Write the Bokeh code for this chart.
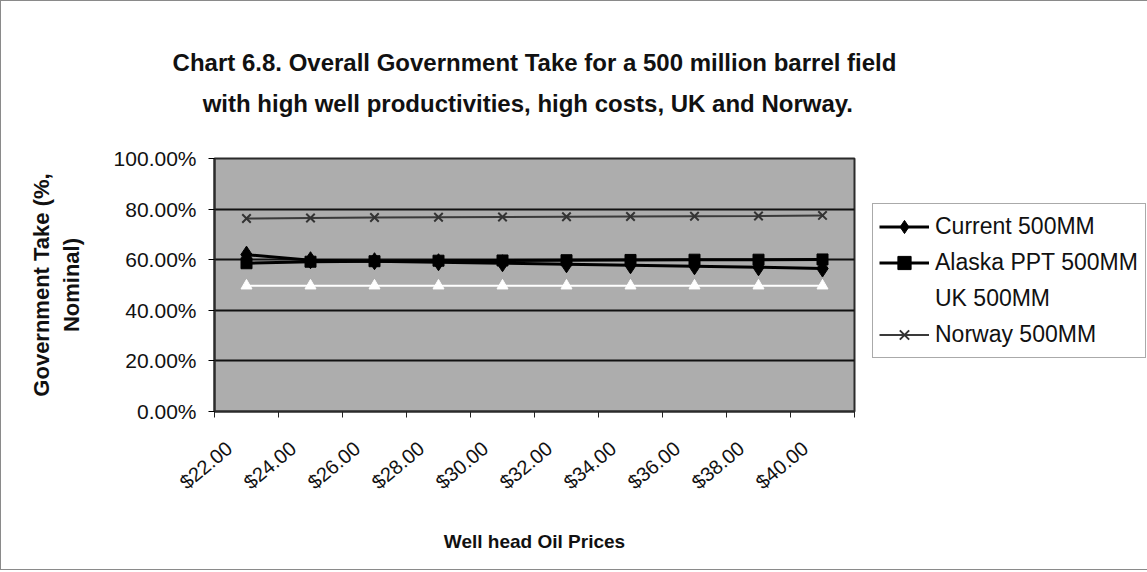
import math
from bokeh.plotting import figure
from bokeh.models import (FixedTicker, NumeralTickFormatter, Legend, LegendItem,
                          Title, Range1d)
from bokeh.embed import file_html
from bokeh.resources import INLINE

# ---- data ----
prices = ["$22.00", "$24.00", "$26.00", "$28.00", "$30.00",
          "$32.00", "$34.00", "$36.00", "$38.00", "$40.00"]
current = [0.620, 0.598, 0.594, 0.590, 0.586, 0.582, 0.578, 0.574, 0.570, 0.565]
alaska = [0.586, 0.592, 0.594, 0.596, 0.597, 0.598, 0.599, 0.600, 0.600, 0.601]
uk = [0.497, 0.497, 0.497, 0.497, 0.497, 0.497, 0.497, 0.497, 0.497, 0.497]
norway = [0.763, 0.765, 0.767, 0.768, 0.769, 0.770, 0.771, 0.772, 0.773, 0.775]
y_ticks = [0.0, 0.2, 0.4, 0.6, 0.8, 1.0]
title_lines = ["Chart 6.8. Overall Government Take for a 500 million barrel field",
               "with high well productivities,  high costs,  UK and Norway."]

x = list(range(1, len(prices) + 1))
FONT = "Liberation Sans"
INK = "#111111"

p = figure(frame_width=640, frame_height=253, output_backend="svg", toolbar_location=None,
           x_range=Range1d(0.5, len(prices) + 0.5), y_range=Range1d(0, 1),
           min_border_left=213, min_border_right=0, min_border_top=157,
           min_border_bottom=158)
p.styles = {"border": "1px solid #8a8a8a"}

p.background_fill_color = "#adadad"
p.border_fill_color = "white"
p.outline_line_color = "#2b2b2b"
p.outline_line_width = 2

# titles: second line sits closest to the plot, first line above it
t2 = Title(text=title_lines[1], align="center", vertical_align="top", standoff=80,
           text_font=FONT, text_font_size="24px", text_font_style="bold",
           text_color=INK)
t1 = Title(text=title_lines[0], align="center", vertical_align="bottom", standoff=-52,
           text_font=FONT, text_font_size="24px", text_font_style="bold",
           text_color=INK)
p.add_layout(t2, "above")
p.add_layout(t1, "above")

# x axis: labels anchored slightly left of the category centre, tick marks between categories
xa = p.xaxis[0]
label_pos = [i - 0.27 for i in x]
xa.ticker = FixedTicker(ticks=label_pos,
                        minor_ticks=[i + 0.5 for i in range(len(prices) + 1)])
xa.major_label_overrides = {pos: lab for pos, lab in zip(label_pos, prices)}
xa.major_label_orientation = 0.7
xa.major_tick_out = 0
xa.major_tick_in = 0
xa.major_tick_line_color = None
xa.minor_tick_out = 6
xa.minor_tick_in = 0
xa.minor_tick_line_color = "#222222"
xa.minor_tick_line_width = 1
xa.axis_line_color = "#2b2b2b"
xa.axis_line_width = 2
xa.major_label_text_font = FONT
xa.major_label_text_font_size = "20px"
xa.major_label_text_color = INK
xa.major_label_standoff = 28
xa.axis_label = "Well head Oil Prices"
xa.axis_label_text_font = FONT
xa.axis_label_text_font_size = "19px"
xa.axis_label_text_font_style = "bold"
xa.axis_label_text_color = INK
xa.axis_label_standoff = 26

# y axis
ya = p.yaxis[0]
ya.ticker = FixedTicker(ticks=y_ticks)
ya.formatter = NumeralTickFormatter(format="0.00%")
ya.major_tick_out = 6
ya.major_tick_in = 0
ya.minor_tick_line_color = None
ya.axis_line_color = "#2b2b2b"
ya.axis_line_width = 2
ya.major_label_text_font = FONT
ya.major_label_text_font_size = "21px"
ya.major_label_text_color = INK
ya.major_label_standoff = 12
ya.axis_label = "Government Take (%,\nNominal)"
ya.axis_label_text_font = FONT
ya.axis_label_text_font_size = "22px"
ya.axis_label_text_font_style = "bold"
ya.axis_label_text_color = INK
ya.axis_label_standoff = 27

p.xgrid.visible = False
p.ygrid.ticker = FixedTicker(ticks=y_ticks)
p.ygrid.grid_line_color = INK
p.ygrid.grid_line_width = 2

# series
nl = p.line(x, norway, line_color="#3a3a3a", line_width=2)
ns = p.scatter(x, norway, marker="x", size=12, line_color="#333333", line_width=2)
ul = p.line(x, uk, line_color="white", line_width=2)
us = p.scatter(x, uk, marker="triangle", size=11, fill_color="white", line_color="white")
al = p.line(x, alaska, line_color="black", line_width=3)
as_ = p.scatter(x, alaska, marker="square", size=11, fill_color="black", line_color="black")
cl = p.line(x, current, line_color="black", line_width=3)
cs = p.scatter(x, current, marker="diamond", size=17, fill_color="black", line_color="black")

legend = Legend(items=[
    LegendItem(label="Current 500MM", renderers=[cl, cs]),
    LegendItem(label="Alaska PPT 500MM", renderers=[al, as_]),
    LegendItem(label="UK 500MM", renderers=[ul, us]),
    LegendItem(label="Norway 500MM", renderers=[nl, ns]),
], location=(18, 53))
legend.background_fill_color = "white"
legend.background_fill_alpha = 1
legend.border_line_color = "#555555"
legend.border_line_width = 1.5
legend.label_text_font = FONT
legend.label_text_font_size = "23px"
legend.label_text_color = INK
legend.label_width = 204
legend.glyph_width = 50
legend.glyph_height = 33
legend.label_height = 33
legend.label_standoff = 6
legend.spacing = 3
legend.padding = 6
legend.margin = 9
p.add_layout(legend, "right")

open("out.html", "w").write(file_html(p, INLINE))
